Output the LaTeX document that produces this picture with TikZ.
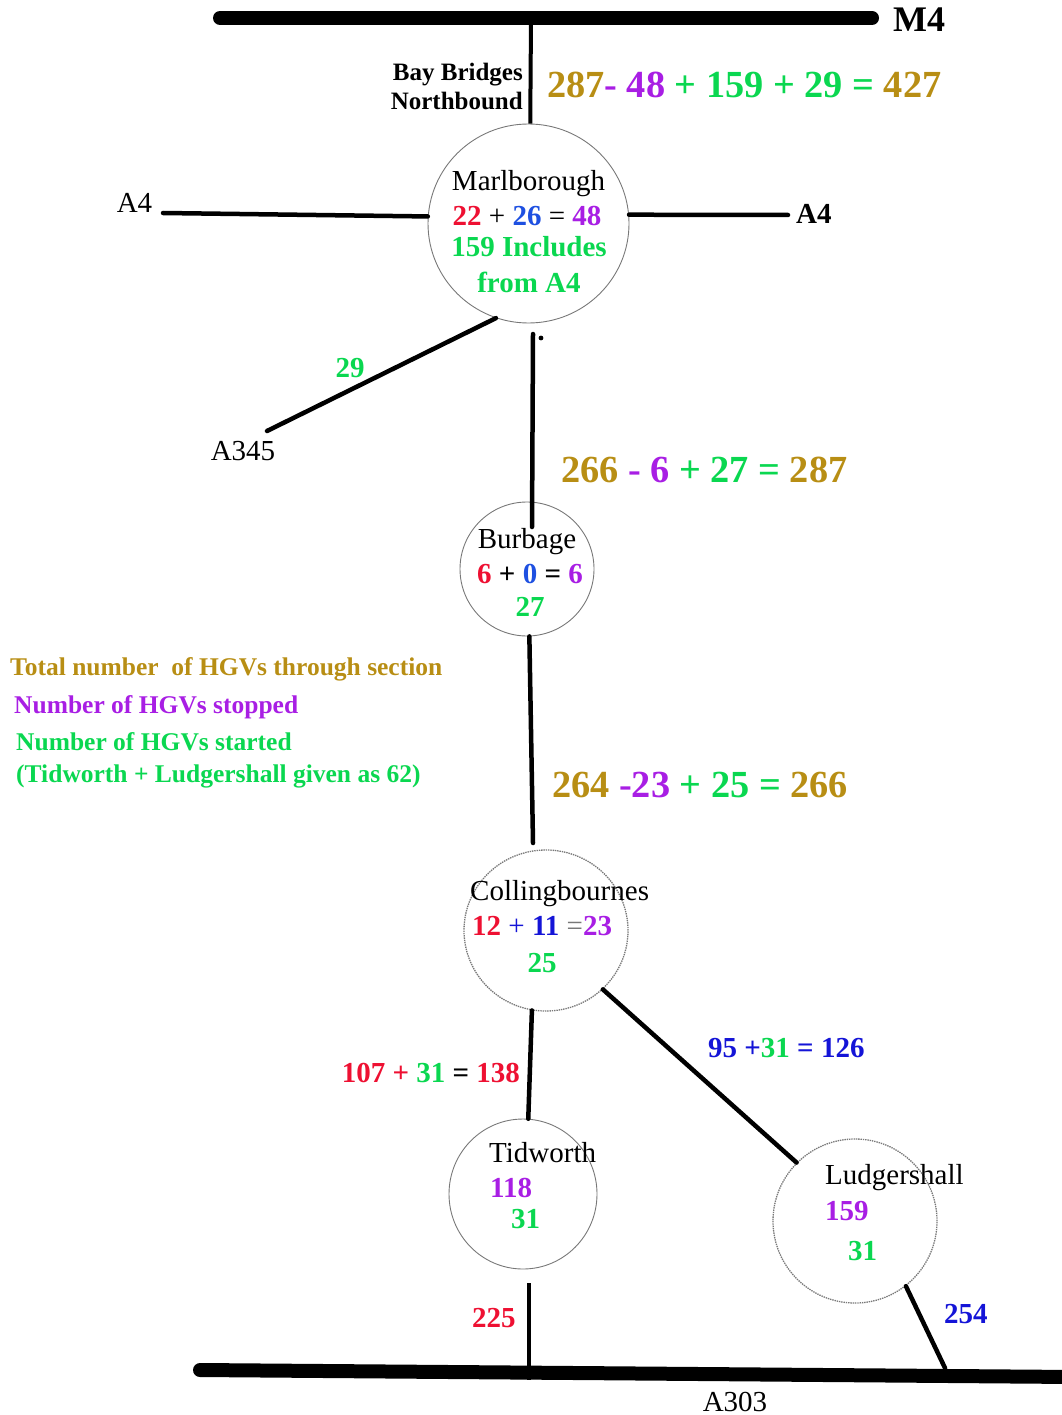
\documentclass[tikz,border=0pt]{standalone}
\usepackage{fontspec}
\setmainfont{Liberation Serif}
\usetikzlibrary{shapes.geometric}
\definecolor{cgold}{RGB}{184,142,20}
\definecolor{cpurp}{RGB}{168,30,228}
\definecolor{cgreen}{RGB}{10,215,80}
\definecolor{cred}{RGB}{238,16,50}
\definecolor{cblue}{RGB}{20,20,215}
\definecolor{clblue}{RGB}{30,80,225}
\definecolor{cline}{RGB}{120,120,120}
\begin{document}
\begin{tikzpicture}[x=1pt,y=-1pt,
  lbl/.style={inner sep=0pt, font=\fontsize{29}{34}\selectfont},
  blbl/.style={inner sep=0pt, font=\bfseries\fontsize{29}{34}\selectfont},
  leg/.style={inner sep=0pt, anchor=base west, font=\bfseries\fontsize{25.5}{30}\selectfont},
  bigeq/.style={inner sep=0pt, anchor=base west, font=\bfseries\fontsize{38.3}{44}\selectfont},
  town/.style={ellipse, draw=cline, line width=0.9pt, inner sep=0pt},
  dtown/.style={town, line width=1.3pt, dash pattern=on 1.4pt off 0.9pt},
  road/.style={line width=14pt, line cap=round},
  conn/.style={line width=4.5pt, line cap=round}]
\useasboundingbox (0,0) rectangle (1061,1415);

% roads
\coordinate (m4w) at (220,18);
\coordinate (m4e) at (872,18);
\coordinate (m4j) at (531,18);
\draw[road] (m4w) -- (m4e);
\node[inner sep=0pt, anchor=base west, font=\bfseries\fontsize{36}{42}\selectfont] (m4) at (893,32) {M4};

\coordinate (a303w) at (200,1370);
\coordinate (a303e) at (1075,1377);
\draw[road] (a303w) -- (a303e);
\node[lbl, anchor=base] (a303) at (735,1411) {A303};

% towns
\node[town, minimum width=201pt, minimum height=199pt] (marl) at (528.5,223.5) {};
\node[town, minimum width=134pt, minimum height=134pt] (burb) at (527,569) {};
\node[dtown, minimum width=164pt, minimum height=161pt] (coll) at (546,930.5) {};
\node[town, minimum width=148pt, minimum height=150pt] (tid) at (523,1194) {};
\node[dtown, minimum width=164pt, minimum height=164pt] (ludg) at (855,1221) {};

% Marlborough texts
\node[lbl, anchor=base] (marlname) at (528.5,191) {Marlborough};
\node[lbl, anchor=base] (marleq) at (527,226) {\textbf{\textcolor{cred}{22}} + \textbf{\textcolor{clblue}{26}} = \textbf{\textcolor{cpurp}{48}}};
\node[blbl, anchor=base, text=cgreen] (marlinc) at (529,257) {159 Includes};
\node[blbl, anchor=base, text=cgreen] (marlfrom) at (529,292) {from A4};

% Bay Bridges
\node[inner sep=0pt, anchor=base east, font=\bfseries\fontsize{25}{30}\selectfont] (bay1) at (523,81) {Bay Bridges};
\node[inner sep=0pt, anchor=base east, font=\bfseries\fontsize{25}{30}\selectfont] (bay2) at (523,110) {Northbound};
\draw[line width=4pt] (m4j) -- (marl.89);
\node[bigeq] (eq1) at (547,98) {\textcolor{cgold}{287}\textcolor{cpurp}{- 48} \textcolor{cgreen}{+ 159 + 29 =} \textcolor{cgold}{427}};

% A4 roads
\coordinate (a4lend) at (163,213);
\coordinate (a4rend) at (788,215);
\draw[conn] (a4lend) -- (marl.176);
\draw[conn] (marl.5) -- (a4rend);
\node[lbl, anchor=base] (a4l) at (134.5,213) {A4};
\node[blbl, anchor=base west] (a4r) at (796,224) {A4};

% A345
\coordinate (a345end) at (267,431);
\draw[conn] (marl.251) -- (a345end);
\node[blbl, anchor=base, text=cgreen] (l29) at (350,377) {29};
\node[lbl, anchor=base] (a345) at (243,460) {A345};

% Marlborough - Burbage
\coordinate (mb1) at (533,334);
\coordinate (mb2) at (532,527);
\draw[conn] (mb1) -- (mb2);
\fill (541,338) circle (2.4pt);
\node[bigeq] (eq2) at (561,482) {\textcolor{cgold}{266} \textcolor{cpurp}{- 6} \textcolor{cgreen}{+ 27 =} \textcolor{cgold}{287}};

% Burbage texts
\node[lbl, anchor=base] (burbname) at (527,548) {Burbage};
\node[blbl, anchor=base] (burbeq) at (530,583) {\textcolor{cred}{6} + \textcolor{clblue}{0} = \textcolor{cpurp}{6}};
\node[blbl, anchor=base, text=cgreen] (burb27) at (530,616) {27};

% Burbage - Collingbournes
\coordinate (bc2) at (533,843);
\draw[conn] (burb.272) -- (bc2);
\node[bigeq] (eq3) at (552,797) {\textcolor{cgold}{264} \textcolor{cpurp}{-23} \textcolor{cgreen}{+ 25 =} \textcolor{cgold}{266}};

% legend
\node[leg, text=cgold] (leg1) at (10,675) {Total number~ of HGVs through section};
\node[leg, text=cpurp] (leg2) at (14,713) {Number of HGVs stopped};
\node[leg, text=cgreen] (leg3) at (16,750) {Number of HGVs started};
\node[leg, text=cgreen] (leg4) at (16,782) {(Tidworth + Ludgershall given as 62)};

% Collingbournes texts
\node[lbl, anchor=base west] (collname) at (470,900) {Collingbournes};
\node[lbl, anchor=base west] (colleq) at (472,935) {\textbf{\textcolor{cred}{12}} \textcolor{cblue}{+} \textbf{\textcolor{cblue}{11}} \textcolor{cline}{=}\textbf{\textcolor{cpurp}{23}}};
\node[blbl, anchor=base, text=cgreen] (coll25) at (542,972) {25};

% Collingbournes - Tidworth
\draw[conn] (coll.260) -- (tid.86);
\node[blbl, anchor=base east] (lct) at (520,1082) {\textcolor{cred}{107 +} \textcolor{cgreen}{31} = \textcolor{cred}{138}};

% Collingbournes - Ludgershall
\draw[conn] (coll.314) -- (ludg.135);
\node[blbl, anchor=base west] (lcl) at (708,1057) {\textcolor{cblue}{95 +}\textcolor{cgreen}{31} \textcolor{cblue}{= 126}};

% Tidworth texts
\node[lbl, anchor=base west] (tidname) at (489,1162) {Tidworth};
\node[blbl, anchor=base west, text=cpurp] (tid118) at (490,1197) {118};
\node[blbl, anchor=base west, text=cgreen] (tid31) at (511,1228) {31};

% Ludgershall texts
\node[lbl, anchor=base west] (ludgname) at (825,1184) {Ludgershall};
\node[blbl, anchor=base west, text=cpurp] (ludg159) at (825,1220) {159};
\node[blbl, anchor=base west, text=cgreen] (ludg31) at (848,1260) {31};

% to A303
\coordinate (ta1) at (529,1283);
\coordinate (ta2) at (529,1380);
\draw[line width=3.2pt] (ta1) -- (ta2);
\node[blbl, anchor=base west, text=cred] (l225) at (472,1327) {225};
\coordinate (la2) at (945,1368);
\draw[conn] (ludg.308) -- (la2);
\node[blbl, anchor=base west, text=cblue] (l254) at (944,1323) {254};
\end{tikzpicture}
\end{document}
